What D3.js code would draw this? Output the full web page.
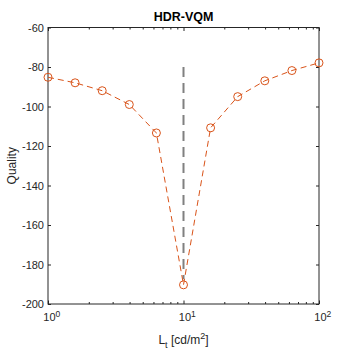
<!DOCTYPE html>
<html>
<head>
<meta charset="utf-8">
<script src="https://cdn.jsdelivr.net/npm/d3@7"></script>
<style>
  body { margin: 0; background: #fff; }
  svg { display: block; font-family: "Liberation Sans", Arial, Helvetica, sans-serif; }
</style>
</head>
<body>
<svg width="354" height="354"></svg>
<script>
// Data
const luminance = [1, 1.585, 2.512, 3.981, 6.31, 10, 15.85, 25.12, 39.81, 63.1, 100];
const quality = [-85.2, -88, -92, -99, -113.4, -190.3, -110.8, -95, -87, -81.8, -77.9];
const yTickValues = [-200, -180, -160, -140, -120, -100, -80, -60];
const xMajorTicks = [1, 10, 100];
const refX = [10, 10];
const refY = [-80, -187.5];

// Dimensioner
const width = 354;
const height = 354;
const margin = { top: 27.5, right: 35, bottom: 50, left: 48 };
const axisColor = "#262626";

const svg = d3.select("svg");

// Skaler
const x = d3.scaleLog()
  .domain([1, 100])
  .range([margin.left, width - margin.right]);

const y = d3.scaleLinear()
  .domain([-200, -60])
  .range([height - margin.bottom, margin.top]);

const minorTicks = x.ticks().filter(d => !xMajorTicks.includes(d));

// Boks
svg.append("rect")
  .attr("x", margin.left)
  .attr("y", margin.top)
  .attr("width", x.range()[1] - x.range()[0])
  .attr("height", y.range()[0] - y.range()[1])
  .attr("fill", "#fff")
  .attr("stroke", axisColor)
  .attr("stroke-width", 1);

// Akser
function styleAxis(g) {
  g.select(".domain").remove();
  g.selectAll("line").attr("stroke", axisColor);
  g.selectAll("text").attr("fill", axisColor).attr("font-size", 11);
}

// Y-akse venstre og højre (almindelig bindestreg som minus)
svg.append("g")
  .attr("transform", `translate(${margin.left},0)`)
  .call(d3.axisLeft(y).tickValues(yTickValues).tickSize(-3).tickPadding(4).tickFormat(d => String(d)))
  .call(styleAxis);

svg.append("g")
  .attr("transform", `translate(${width - margin.right},0)`)
  .call(d3.axisRight(y).tickValues(yTickValues).tickSize(-3).tickFormat(""))
  .call(styleAxis);

// X-akse bund (store ticks)
const xAxis = svg.append("g")
  .attr("transform", `translate(0,${height - margin.bottom})`)
  .call(d3.axisBottom(x).tickValues(xMajorTicks).tickSize(-3.5).tickPadding(9))
  .call(styleAxis);

xAxis.selectAll("text")
  .each(function (d) {
    const t = d3.select(this);
    t.text("10");
    t.append("tspan")
      .attr("dy", "-0.45em")
      .attr("font-size", 8.5)
      .text(Math.round(Math.log10(d)));
  })
  .attr("dx", "0.3em");

// Små ticks bund og top
svg.append("g")
  .attr("transform", `translate(0,${height - margin.bottom})`)
  .call(d3.axisBottom(x).tickValues(minorTicks).tickSize(-2).tickFormat(""))
  .call(styleAxis);

svg.append("g")
  .attr("transform", `translate(0,${margin.top})`)
  .call(d3.axisTop(x).tickValues(minorTicks).tickSize(-2).tickFormat(""))
  .call(styleAxis);

svg.append("g")
  .attr("transform", `translate(0,${margin.top})`)
  .call(d3.axisTop(x).tickValues(xMajorTicks).tickSize(-3.5).tickFormat(""))
  .call(styleAxis);

// Reference linje
svg.append("line")
  .attr("x1", x(refX[0]))
  .attr("x2", x(refX[1]))
  .attr("y1", y(refY[0]))
  .attr("y2", y(refY[1]))
  .attr("stroke", "#808080")
  .attr("stroke-width", 2)
  .attr("stroke-dasharray", "10,6");

// Linjen
const line = d3.line()
  .x((d, i) => x(luminance[i]))
  .y(d => y(d));

svg.append("path")
  .datum(quality)
  .attr("d", line)
  .attr("fill", "none")
  .attr("stroke", "#D95319")
  .attr("stroke-width", 1)
  .attr("stroke-dasharray", "6,4");

// Markører
svg.append("g")
  .selectAll("circle")
  .data(quality)
  .join("circle")
  .attr("cx", (d, i) => x(luminance[i]))
  .attr("cy", d => y(d))
  .attr("r", 4)
  .attr("fill", "none")
  .attr("stroke", "#D95319")
  .attr("stroke-width", 1);

// Titel
svg.append("text")
  .attr("x", (x.range()[0] + x.range()[1]) / 2)
  .attr("y", 20.5)
  .attr("text-anchor", "middle")
  .attr("font-size", 12.5)
  .attr("font-weight", "bold")
  .attr("fill", "#000")
  .text("HDR-VQM");

// Akse titler
svg.append("text")
  .attr("transform", `translate(16,${(y.range()[0] + y.range()[1]) / 2}) rotate(-90)`)
  .attr("text-anchor", "middle")
  .attr("font-size", 12)
  .attr("fill", axisColor)
  .text("Quality");

const xLabel = svg.append("text")
  .attr("x", (x.range()[0] + x.range()[1]) / 2)
  .attr("y", 344)
  .attr("text-anchor", "middle")
  .attr("font-size", 12)
  .attr("fill", axisColor);
xLabel.append("tspan").text("L");
xLabel.append("tspan").attr("dy", 4).attr("font-size", 9).text("t");
xLabel.append("tspan").attr("dy", -4).text(" [cd/m");
xLabel.append("tspan").attr("dy", -5).attr("font-size", 9).text("2");
xLabel.append("tspan").attr("dy", 5).text("]");
</script>
</body>
</html>
